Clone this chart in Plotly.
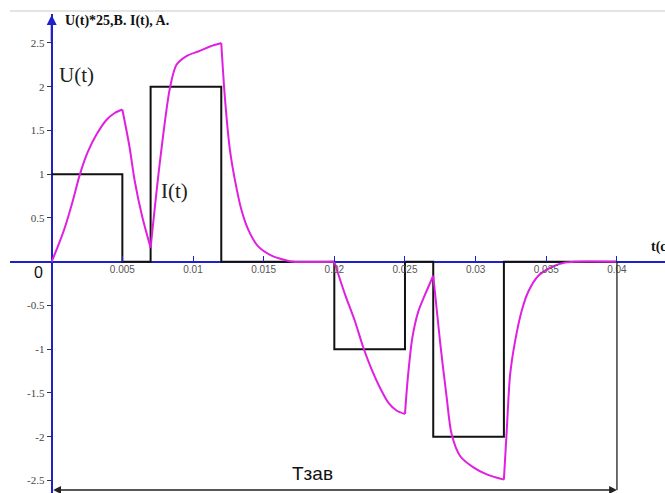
import plotly.graph_objects as go

# --- data ---
# U(t)*25 (black step), levels held from each switching time
t_steps = [0, 0.005, 0.007, 0.012, 0.02, 0.025, 0.027, 0.032, 0.04]
u_levels = [1, 0, 2, 0, -1, 0, -2, 0, 0]

# I(t) (magenta curve)
t_i = [0, 0.0005, 0.00092, 0.0015, 0.00198, 0.00257, 0.00316, 0.00387, 0.00446, 0.005,
       0.0055, 0.00588, 0.0064, 0.007,
       0.00765, 0.00836, 0.00883, 0.00954, 0.01048, 0.0112, 0.012,
       0.01225, 0.01261, 0.01297, 0.01343, 0.0139, 0.01461, 0.01556, 0.0165, 0.0171,
       0.02,
       0.02075, 0.02146, 0.02205, 0.02264, 0.02323, 0.02382, 0.0244, 0.025,
       0.0252, 0.02552, 0.02594, 0.02641, 0.027,
       0.02748, 0.02795, 0.0283, 0.0289, 0.02984, 0.03079, 0.032,
       0.0322, 0.03244, 0.03279, 0.03326, 0.03373, 0.03444, 0.03539, 0.03633, 0.037,
       0.04]
i_vals = [0, 0.2, 0.385, 0.7, 0.99, 1.26, 1.45, 1.62, 1.70, 1.74,
          1.32, 0.92, 0.52, 0.16,
          1.13, 1.98, 2.25, 2.35, 2.41, 2.46, 2.50,
          1.89, 1.28, 0.93, 0.59, 0.37, 0.175, 0.07, 0.02, 0,
          0,
          -0.37, -0.68, -0.98, -1.23, -1.44, -1.61, -1.70, -1.74,
          -1.33, -0.87, -0.57, -0.38, -0.16,
          -0.91, -1.55, -1.97, -2.22, -2.35, -2.43, -2.49,
          -1.93, -1.29, -0.91, -0.56, -0.34, -0.16, -0.06, -0.01, 0,
          0]

x_tick_vals = [0.005, 0.01, 0.015, 0.02, 0.025, 0.03, 0.035, 0.04]
x_tick_text = ["0.005", "0.01", "0.015", "0.02", "0.025", "0.03", "0.035", "0.04"]
y_tick_vals = [-2.5, -2, -1.5, -1, -0.5, 0.5, 1, 1.5, 2, 2.5]
y_tick_text = ["-2.5", "-2", "-1.5", "-1", "-0.5", "0.5", "1", "1.5", "2", "2.5"]

t_zav_end = t_steps[-1]
y_arrow = -2.609

x_range = [-0.00295, 0.04340]
y_range = [-2.643, 2.831]
x_pos = (0 - x_range[0]) / (x_range[1] - x_range[0])
y_pos = (0 - y_range[0]) / (y_range[1] - y_range[0])

BLUE = "#1f1fcc"
MAG = "#e020e0"

fig = go.Figure()
fig.add_trace(go.Scatter(x=t_steps, y=u_levels, mode="lines", line_shape="hv",
                         line=dict(color="#111111", width=2), name="U(t)",
                         showlegend=False, hoverinfo="skip"))

# I(t): smooth pieces between the switching instants (cusps kept sharp)
cut_idx = [0] + [t_i.index(t) for t in t_steps[1:-1]] + [len(t_i) - 1]
for a, b in zip(cut_idx[:-1], cut_idx[1:]):
    fig.add_trace(go.Scatter(x=t_i[a:b + 1], y=i_vals[a:b + 1], mode="lines",
                             line=dict(color=MAG, width=2, shape="spline", smoothing=0.8),
                             name="I(t)", showlegend=False, hoverinfo="skip"))

fig.update_layout(
    width=665, height=493,
    margin=dict(l=10, r=0, t=14, b=0),
    paper_bgcolor="white", plot_bgcolor="white",
    xaxis=dict(range=x_range, showgrid=False, zeroline=True, zerolinecolor=BLUE,
               zerolinewidth=2, anchor="free", position=y_pos, showline=False,
               tickvals=x_tick_vals, ticktext=x_tick_text, ticks="inside",
               ticklen=6, tickcolor=BLUE, tickwidth=1,
               tickfont=dict(family="Liberation Sans", size=10, color="#555555")),
    yaxis=dict(range=y_range, showgrid=False, zeroline=True, zerolinecolor=BLUE,
               zerolinewidth=2, anchor="free", position=x_pos, showline=False,
               tickvals=y_tick_vals, ticktext=y_tick_text, ticks="outside",
               ticklen=5, tickcolor="#333333", tickwidth=1,
               tickfont=dict(family="Liberation Serif", size=11, color="#444444")),
)

# thin gray rule at the top
fig.add_shape(type="line", xref="paper", yref="paper", x0=0, x1=1,
              y0=1 + 3 / 479, y1=1 + 3 / 479, line=dict(color="#c8c8c8", width=1))
# vertical marker at the end of the transient
fig.add_shape(type="line", xref="x", yref="y", x0=t_zav_end, x1=t_zav_end,
              y0=0, y1=y_arrow, line=dict(color="#222222", width=1.3))

# y axis arrow
fig.add_annotation(x=0, y=y_range[1] - 0.01, ax=0, ay=2.5, xref="x", yref="y",
                   axref="x", ayref="y", text="", showarrow=True, arrowhead=2,
                   arrowsize=1, arrowwidth=2, arrowcolor=BLUE)
# double arrow Tзав
fig.add_annotation(x=t_zav_end, y=y_arrow, ax=0, ay=y_arrow, xref="x", yref="y",
                   axref="x", ayref="y", text="", showarrow=True, arrowhead=2,
                   arrowside="end+start", arrowsize=1.2, arrowwidth=1.3,
                   arrowcolor="#222222")

texts = [
    dict(x=0.0008, y=2.75, text="<b>U(t)*25,B. I(t), A.</b>", xanchor="left",
         font=dict(family="Liberation Serif", size=14, color="#111111")),
    dict(x=0.04227, y=0.168, text="<b>t(c)</b>", xanchor="left",
         font=dict(family="Liberation Serif", size=14, color="#111111")),
    dict(x=0.00179, y=2.134, text="U(t)", xanchor="center",
         font=dict(family="Liberation Serif", size=21, color="#222222")),
    dict(x=0.00872, y=0.806, text="I(t)", xanchor="center",
         font=dict(family="Liberation Serif", size=21, color="#222222")),
    dict(x=-0.0009, y=-0.118, text="0", xanchor="center",
         font=dict(family="Liberation Sans", size=16, color="#111111")),
    dict(x=0.01849, y=-2.415, text="Tзав", xanchor="center",
         font=dict(family="Liberation Sans", size=19, color="#111111")),
]
for t in texts:
    fig.add_annotation(xref="x", yref="y", showarrow=False, yanchor="middle", **t)

fig.write_html("out.html", config={"displayModeBar": False},
               post_script="document.body.style.margin='0';")
